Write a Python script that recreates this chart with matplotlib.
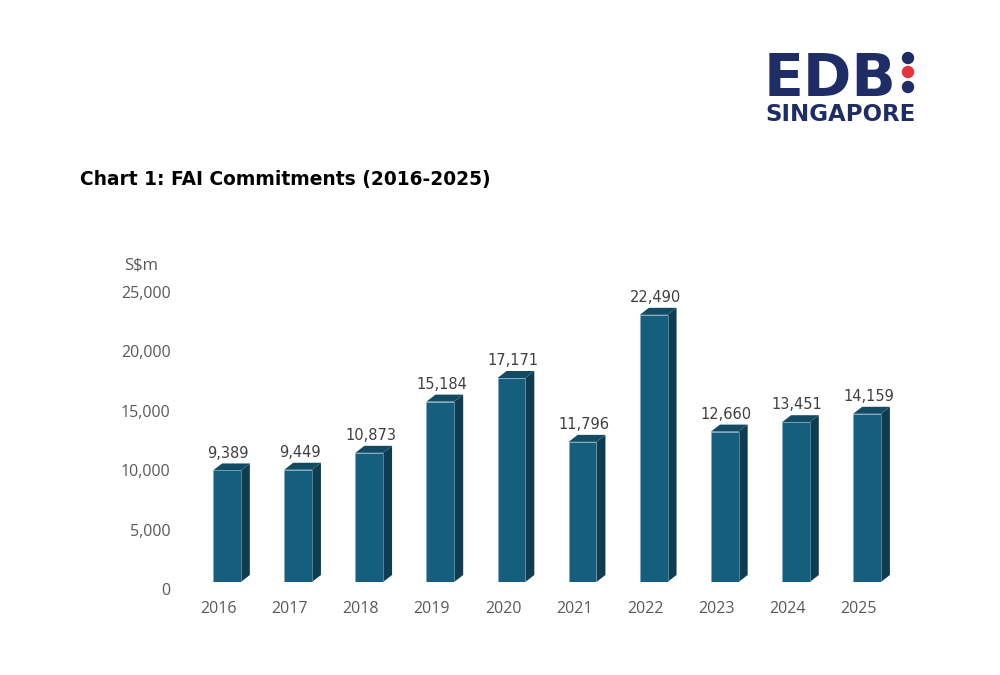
import matplotlib.pyplot as plt
import matplotlib.transforms as mtransforms
from matplotlib.patches import Polygon, Circle

years = ['2016', '2017', '2018', '2019', '2020', '2021', '2022', '2023', '2024', '2025']
commitments = [9389, 9449, 10873, 15184, 17171, 11796, 22490, 12660, 13451, 14159]
y_ticks = [0, 5000, 10000, 15000, 20000, 25000]

FRONT = '#155e7d'
SIDE = '#0f3c50'
TOP = '#134b64'
NAVY = '#1f2d66'
RED = '#e8323c'
GREY = '#595959'

W, H = 1000, 675
fig = plt.figure(figsize=(10, 6.75), dpi=100)

# chart axes, placed so the bar fronts sit where the reference has them
left, right = 191.4, 902.6
bottom, top = 582, 285
ax = fig.add_axes([left / W, 1 - bottom / H, (right - left) / W, (bottom - top) / H])
ax.set_xlim(-0.5, len(years) - 0.5)
ax.set_ylim(0, 25000)
for s in ax.spines.values():
    s.set_visible(False)

width = 0.39
depth_px = (9, 7)
px_x = (right - left) / len(years)
px_y = (bottom - top) / 25000
dx = depth_px[0] / px_x
dy = depth_px[1] / px_y

xs = list(range(len(years)))
ax.bar(xs, commitments, width=width, color=FRONT, edgecolor='#7fa9bd', linewidth=0.4, zorder=3)
for x, v in zip(xs, commitments):
    x0, x1 = x - width / 2, x + width / 2
    side = Polygon([(x1, 0), (x1 + dx, dy), (x1 + dx, v + dy), (x1, v)],
                   closed=True, facecolor=SIDE, edgecolor='none', zorder=2)
    topf = Polygon([(x0, v), (x0 + dx, v + dy), (x1 + dx, v + dy), (x1, v)],
                   closed=True, facecolor=TOP, edgecolor='none', zorder=2)
    ax.add_patch(side)
    ax.add_patch(topf)
    ax.annotate(f'{v:,}', xy=(x, v), xytext=(1, 7), textcoords='offset points',
                ha='center', va='bottom', fontsize=10.5, color='#404040',
                family='DejaVu Sans')

ax.set_xticks(xs)
ax.set_xticklabels(years, family='Open Sans', fontsize=11.5, color=GREY)
ax.set_yticks(y_ticks)
ax.set_yticklabels([f'{t:,}' for t in y_ticks], family='Open Sans', fontsize=11.5,
                   color=GREY)
ax.tick_params(axis='both', length=0)
ax.tick_params(axis='y', pad=15)
ax.tick_params(axis='x', pad=14)

shift_y = mtransforms.ScaledTranslation(0, -5 / 72, fig.dpi_scale_trans)
for lab in ax.get_yticklabels():
    lab.set_transform(lab.get_transform() + shift_y)
shift_x = mtransforms.ScaledTranslation(-6 / 72, 0, fig.dpi_scale_trans)
for lab in ax.get_xticklabels():
    lab.set_transform(lab.get_transform() + shift_x)

fig.text(124 / W, 1 - 266 / H, 'S$m', family='Open Sans', fontsize=12,
         color=GREY, ha='left', va='center')

fig.text(80 / W, 1 - 180 / H, 'Chart 1: FAI Commitments (2016-2025)',
         family='DejaVu Sans', fontweight='bold', fontsize=13.4, color='#000000',
         ha='left', va='center')

# logo overlay in pixel units
logo = fig.add_axes([0, 0, 1, 1], zorder=-1)
logo.set_xlim(0, W)
logo.set_ylim(H, 0)
logo.axis('off')
logo.text(764, 96, 'EDB', family='DejaVu Sans', fontweight='bold', fontsize=42,
          color=NAVY, ha='left', va='baseline')
logo.text(765, 121, 'SINGAPORE', family='DejaVu Sans', fontweight='bold', fontsize=16.5,
          color=NAVY, ha='left', va='baseline')
for cy, c in [(58, NAVY), (72, RED), (87, NAVY)]:
    logo.add_patch(Circle((908, cy), 5.5, color=c))

fig.savefig('out.png', dpi=100)
